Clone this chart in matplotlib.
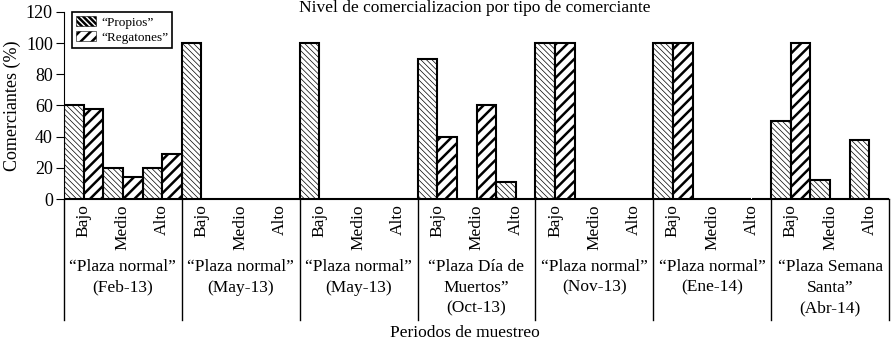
import matplotlib
matplotlib.use("Agg")
import matplotlib.pyplot as plt
import numpy as np

# data
niveles = ["Bajo", "Medio", "Alto"]
periodos = ["\u201cPlaza normal\u201d\n(Feb-13)",
            "\u201cPlaza normal\u201d\n(May-13)",
            "\u201cPlaza normal\u201d\n(May-13)",
            "\u201cPlaza D\u00eda de\nMuertos\u201d\n(Oct-13)",
            "\u201cPlaza normal\u201d\n(Nov-13)",
            "\u201cPlaza normal\u201d\n(Ene-14)",
            "\u201cPlaza Semana\nSanta\u201d\n(Abr-14)"]
propios = [60, 20, 20,  100, 0, 0,  100, 0, 0,  90, 0, 11,
           100, 0, 0,  100, 0, 0,  50, 12, 38]
regatones = [58, 14, 29,  0, 0, 0,  0, 0, 0,  40, 60, 0,
             100, 0, 0,  100, 0, 0,  100, 0, 0]

plt.rcParams["font.family"] = ["Liberation Serif", "DejaVu Serif"]
FS = 12.5

fig = plt.figure(figsize=(8.93, 3.45), dpi=100)
ax = fig.add_axes([64 / 893, 1 - 199 / 345, 825 / 893, 187 / 345])

x = np.arange(len(propios))
w = 0.5
plt.rcParams["hatch.linewidth"] = 0.5
ax.bar(x - w / 2, propios, w, color="white", edgecolor="black", lw=1.5,
       hatch="\\" * 6, label="\u201cPropios\u201d")
plt.rcParams["hatch.linewidth"] = 1.8
ax.bar(x + w / 2, regatones, w, color="white", edgecolor="black", lw=1.5,
       hatch="///", label="\u201cRegatones\u201d")

ax.set_xlim(-0.5, len(propios) - 0.5)
ax.set_ylim(0, 120)
ax.set_yticks(range(0, 121, 20))
ax.tick_params(axis="y", labelsize=13, length=6, direction="out", pad=2)
ax.set_xticks([])
for s in ("top", "right"):
    ax.spines[s].set_visible(False)

trans = ax.get_xaxis_transform()
bottom = -121 / 187
for g in range(len(periodos) + 1):
    xb = g * 3 - 0.5
    ax.plot([xb, xb], [0, bottom], color="black", lw=1.0, transform=trans,
            clip_on=False)
for i in x:
    ax.text(i, -5 / 187, niveles[i % 3], rotation=90, ha="center", va="top",
            fontsize=FS, transform=trans)
for g, lab in enumerate(periodos):
    ax.text(g * 3 + 1, -60 / 187, lab, ha="center", va="top", fontsize=FS,
            linespacing=1.38, transform=trans)

fig.text(12 / 893, 1 - 106 / 345, "Comerciantes (%)", rotation=90,
         ha="center", va="center", fontsize=13)
fig.text(465 / 893, 1 - 333 / 345, "Periodos de muestreo", ha="center",
         va="center", fontsize=FS)
fig.text(475 / 893, 1 - 8 / 345, "Nivel de comercializacion por tipo de comerciante",
         ha="center", va="center", fontsize=FS)

leg = ax.legend(loc="upper left", bbox_to_anchor=(8 / 825, 1.0), fontsize=9.5,
                frameon=True, fancybox=False, edgecolor="black", framealpha=1,
                handlelength=1.5, handleheight=0.8, handletextpad=0.4,
                borderpad=0.3, labelspacing=0.2, borderaxespad=0)
leg.get_frame().set_linewidth(1.2)
for p in leg.get_patches():
    p.set_linewidth(0.4)

fig.savefig("out.png", dpi=100)
